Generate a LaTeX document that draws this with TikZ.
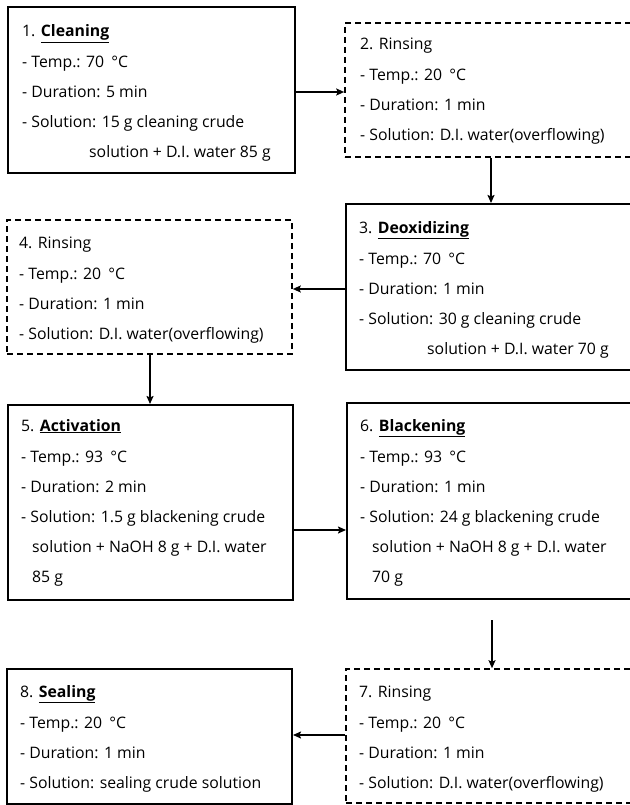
\documentclass[tikz,border=0pt]{standalone}
\usepackage{fontspec}
\setmainfont{Open Sans}
\usetikzlibrary{arrows.meta}
\newcommand{\dg}{\hspace{0.45em}°C}
\begin{document}
\begin{tikzpicture}[x=1pt,y=-1pt,
  solidbox/.style={draw=black,line width=2pt},
  dashbox/.style={draw=black,line width=1.6pt,dash pattern=on 6pt off 4pt},
  shapebox/.style={inner sep=0pt,rectangle},
  txt/.style={anchor=base west,inner sep=0pt,font=\fontsize{15.8}{30}\selectfont},
  arr/.style={line width=1.6pt,-{Stealth[length=8pt,width=7pt,inset=1.5pt]}}]
\useasboundingbox (0,0) rectangle (629,805);
% boxes
\node[shapebox,solidbox,minimum width=287pt,minimum height=166pt] (b1) at (151.5,90) {};
\node[shapebox,dashbox,minimum width=286pt,minimum height=134pt] (b2) at (488,90) {};
\node[shapebox,solidbox,minimum width=285pt,minimum height=166pt] (b3) at (488.5,287) {};
\node[shapebox,dashbox,minimum width=285pt,minimum height=134pt] (b4) at (149.5,287) {};
\node[shapebox,solidbox,minimum width=285pt,minimum height=195pt] (b5) at (150.5,502.5) {};
\node[shapebox,solidbox,minimum width=284pt,minimum height=196pt] (b6) at (489,501) {};
\node[shapebox,dashbox,minimum width=285pt,minimum height=134pt] (b7) at (488.5,736) {};
\node[shapebox,solidbox,minimum width=285pt,minimum height=135pt] (b8) at (149.5,736.5) {};
% texts
\node[txt] (t1) at (22,37) {\begin{tabular}[t]{@{}l@{}}1. \underline{\textbf{Cleaning}}\\[1pt]- Temp.: 70\dg\\- Duration: 5 min\\- Solution: 15 g cleaning crude\\\hspace*{67pt}solution + D.I. water 85 g\end{tabular}};
\node[txt] (t2) at (360,50) {\begin{tabular}[t]{@{}l@{}}2. Rinsing\\[1pt]- Temp.: 20\dg\\- Duration: 1 min\\- Solution: D.I. water(overflowing)\end{tabular}};
\node[txt] (t3) at (359,233) {\begin{tabular}[t]{@{}l@{}}3. \underline{\textbf{Deoxidizing}}\\[1pt]- Temp.: 70\dg\\- Duration: 1 min\\- Solution: 30 g cleaning crude\\\hspace*{68pt}solution + D.I. water 70 g\end{tabular}};
\node[txt] (t4) at (19,248) {\begin{tabular}[t]{@{}l@{}}4. Rinsing\\[1pt]- Temp.: 20\dg\\- Duration: 1 min\\- Solution: D.I. water(overflowing)\end{tabular}};
\node[txt] (t5) at (21,431) {\begin{tabular}[t]{@{}l@{}}5. \underline{\textbf{Activation}}\\[1pt]- Temp.: 93\dg\\- Duration: 2 min\\- Solution: 1.5 g blackening crude\\\hspace*{11pt}solution + NaOH 8 g + D.I. water\\\hspace*{11pt}85 g\end{tabular}};
\node[txt] (t6) at (360,431) {\begin{tabular}[t]{@{}l@{}}6. \underline{\textbf{Blackening}}\\[1pt]- Temp.: 93\dg\\- Duration: 1 min\\- Solution: 24 g blackening crude\\\hspace*{12pt}solution + NaOH 8 g + D.I. water\\\hspace*{12pt}70 g\end{tabular}};
\node[txt] (t7) at (359,697) {\begin{tabular}[t]{@{}l@{}}7. Rinsing\\[1pt]- Temp.: 20\dg\\- Duration: 1 min\\- Solution: D.I. water(overflowing)\end{tabular}};
\node[txt] (t8) at (20,697) {\begin{tabular}[t]{@{}l@{}}8. \underline{\textbf{Sealing}}\\[1pt]- Temp.: 20\dg\\- Duration: 1 min\\- Solution: sealing crude solution\end{tabular}};
% connector reference coordinates
\coordinate (y12) at (0,92);
\coordinate (x23) at (491,0);
\coordinate (y34) at (0,289);
\coordinate (x45) at (150,0);
\coordinate (y56) at (0,530);
\coordinate (s67) at (492,620);
\coordinate (y78) at (0,735);
% connectors
\draw[arr] (b1.east |- y12) -- (b2.west |- y12);
\draw[arr] (b2.south -| x23) -- (b3.north -| x23);
\draw[arr] (b3.west |- y34) -- (b4.east |- y34);
\draw[arr] (b4.south -| x45) -- (b5.north -| x45);
\draw[arr] (b5.east |- y56) -- (b6.west |- y56);
\draw[arr] (s67) -- (b7.north -| s67);
\draw[arr] (b7.west |- y78) -- (b8.east |- y78);
\end{tikzpicture}
\end{document}
